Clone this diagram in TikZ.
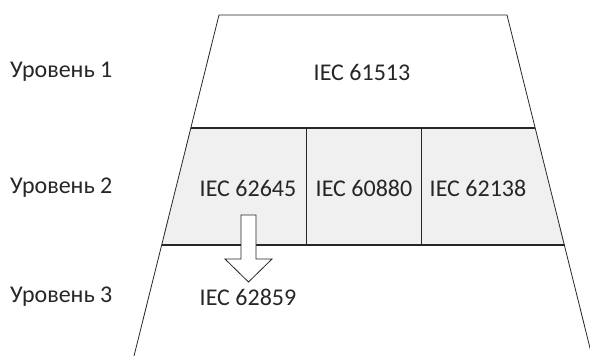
\documentclass[tikz,border=0pt]{standalone}
\usepackage{fontspec}
\setmainfont{Carlito}
\begin{document}
\begin{tikzpicture}[
    x=1pt, y=-1pt,
    font=\fontsize{24}{28}\selectfont,
    level/.style={anchor=west, inner sep=0pt, text=black!85},
    std/.style={inner sep=0pt, text=black!85},
    frame/.style={draw=black!85, line width=0.8pt},
    sep/.style={draw=black!85, line width=1.1pt},
    cellfill/.style={fill=gray!12},
    blockarrow/.style={draw=black!85, line width=0.8pt, fill=white},
]
\useasboundingbox (0,0) rectangle (590,356);

% Corners of the trapezoid and the row borders
\coordinate (TL) at (219,15);
\coordinate (TR) at (507,15);
\coordinate (BL) at (134,356);
\coordinate (BR) at (592,356);
\coordinate (A1) at (190.7,128);
\coordinate (B1) at (535.3,128);
\coordinate (A2) at (161.5,245);
\coordinate (B2) at (564.5,245);

% Row 2 background
\fill[cellfill] (A1) -- (B1) -- (B2) -- (A2) -- cycle;

% Outline and row borders
\draw[frame] (BL) -- (TL) -- (TR) -- (BR);
\draw[sep] (A1) -- (B1);
\draw[sep] (A2) -- (B2);
\draw[frame] (306,128) -- (306,245);
\draw[frame] (421,128) -- (421,245);

% Level labels
\node[level] (L1) at (10,72) {Уровень 1};
\node[level] (L2) at (10,188) {Уровень 2};
\node[level] (L3) at (10,297) {Уровень 3};

% Standards
\node[std] (s61513) at (362,72) {IEC 61513};
\node[std] (s62645) at (248,188) {IEC 62645};
\node[std] (s60880) at (364,188) {IEC 60880};
\node[std] (s62138) at (478,188) {IEC 62138};
\node[std] (s62859) at (248,297) {IEC 62859};

% Block arrow from level 2 to level 3
\draw[blockarrow] ([xshift=-7pt, yshift=-27pt]s62645.center)
    -- ++(15,0) -- ++(0,44) -- ++(16,0) -- ++(-23.5,23)
    -- ++(-23.5,-23) -- ++(16,0) -- cycle;
\end{tikzpicture}
\end{document}
